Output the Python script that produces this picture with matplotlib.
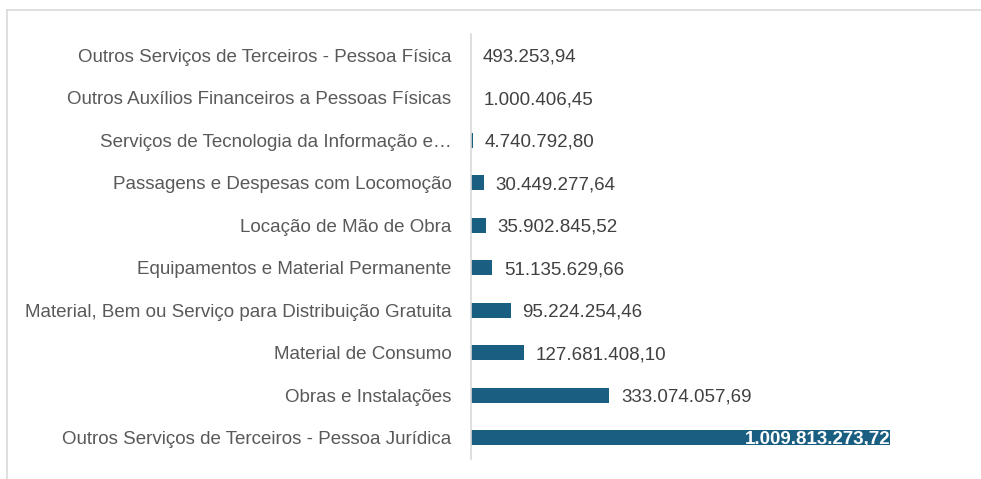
import matplotlib
matplotlib.use("Agg")
import matplotlib.pyplot as plt
from matplotlib.lines import Line2D

categories = [
    "Outros Serviços de Terceiros - Pessoa Física",
    "Outros Auxílios Financeiros a Pessoas Físicas",
    "Serviços de Tecnologia da Informação e…",
    "Passagens e Despesas com Locomoção",
    "Locação de Mão de Obra",
    "Equipamentos e Material Permanente",
    "Material, Bem ou Serviço para Distribuição Gratuita",
    "Material de Consumo",
    "Obras e Instalações",
    "Outros Serviços de Terceiros - Pessoa Jurídica",
]
values = [493253.94, 1000406.45, 4740792.80, 30449277.64, 35902845.52,
          51135629.66, 95224254.46, 127681408.10, 333074057.69, 1009813273.72]
labels = ["493.253,94", "1.000.406,45", "4.740.792,80", "30.449.277,64",
          "35.902.845,52", "51.135.629,66", "95.224.254,46", "127.681.408,10",
          "333.074.057,69", "1.009.813.273,72"]

W, H = 981, 479
BAR = "#1a5f82"
TXT = "#595959"
FS = 13.5
plt.rcParams['font.family'] = ['Liberation Sans', 'DejaVu Sans']

fig = plt.figure(figsize=(W / 100, H / 100), dpi=100)
ax = fig.add_axes([471 / W, 1 - 459 / H, (890 - 471) / W, (459 - 34) / H])

n = len(categories)
ypos = list(range(n))
ax.barh(ypos, values, height=0.35, color=BAR)
ax.set_xlim(0, max(values))
ax.set_ylim(n - 0.5, -0.5)
ax.set_yticks(ypos)
ax.set_yticklabels(categories, fontsize=FS, color=TXT)
ax.tick_params(axis="y", length=0, pad=14)
ax.set_xticks([])
for s in ["top", "right", "bottom"]:
    ax.spines[s].set_visible(False)
ax.spines["left"].set_color("#d9d9d9")
ax.spines["left"].set_linewidth(1.2)

for i, (v, lab) in enumerate(zip(values, labels)):
    if i == n - 1:
        ax.text(v, i, lab, ha="right", va="center_baseline", fontsize=FS,
                color="white", fontweight="bold")
    else:
        ax.annotate(lab, (v, i), xytext=(8.5, 0), textcoords="offset points",
                    ha="left", va="center_baseline", fontsize=FS, color="#404040")

# screenshot frame
fig.add_artist(Line2D([7 / W, 1], [1 - 10 / H, 1 - 10 / H], color="#d9d9d9", lw=1.2))
fig.add_artist(Line2D([7 / W, 7 / W], [1 - 10 / H, 0], color="#d9d9d9", lw=1.2))

fig.savefig("out.png", dpi=100)
